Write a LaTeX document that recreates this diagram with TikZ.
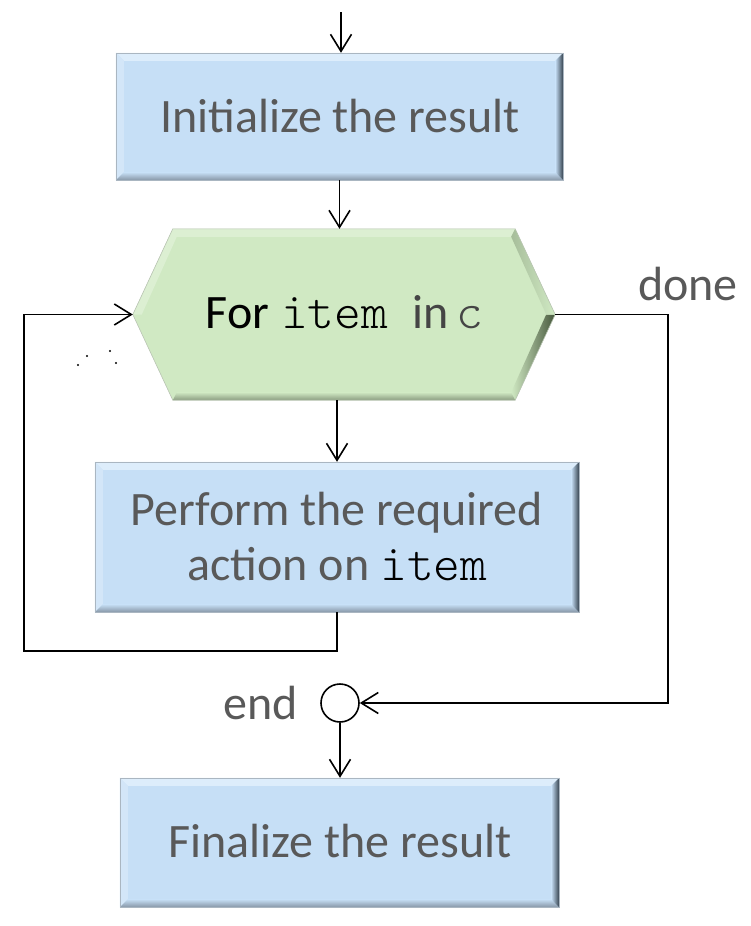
\documentclass[tikz,border=0pt]{standalone}
\usepackage{fontspec}
\setmainfont{Carlito}
\newfontfamily\courlt{lmmonolt10-regular.otf}
\usetikzlibrary{arrows.meta}
\definecolor{txtgray}{HTML}{595959}
\definecolor{ingray}{HTML}{454545}
\definecolor{bluemain}{HTML}{C6DFF6}
\definecolor{bluetop}{HTML}{DDEDFB}
\definecolor{blueleft}{HTML}{D3E6F8}
\definecolor{bluedark}{HTML}{33404C}
\definecolor{bluebot}{HTML}{8696A6}
\definecolor{greenmain}{HTML}{D0E9C3}
\definecolor{greentop}{HTML}{DCEFD2}
\definecolor{greendark}{HTML}{46573C}
\definecolor{greenbot}{HTML}{8A9C80}
\newcommand\cmono[1]{{\fontsize{51}{55}\courlt #1}}
\tikzset{
  conn/.style={line width=1.6pt, black},
  arr/.style={conn, -{Straight Barb[length=17pt,width=21pt,line width=1.6pt]}},
  boxnode/.style={rectangle, fill=bluemain, draw=none, inner sep=0pt},
  txt/.style={text=txtgray, inner sep=0pt, anchor=base, font=\fontsize{48}{55}\selectfont},
  hexnode/.style={rectangle, draw=none, inner sep=0pt},
}
\newcommand\bevbox[1]{%
  \fill[bluetop] (#1.north west) -- (#1.north east) -- ([xshift=-8pt,yshift=-8pt]#1.north east) -- ([xshift=8pt,yshift=-8pt]#1.north west) -- cycle;
  \fill[blueleft] (#1.north west) -- ([xshift=8pt,yshift=-8pt]#1.north west) -- ([xshift=8pt,yshift=8pt]#1.south west) -- (#1.south west) -- cycle;
  \shade[top color=bluemain, bottom color=bluebot] (#1.south west) -- ([xshift=8pt,yshift=8pt]#1.south west) -- ([xshift=-8pt,yshift=8pt]#1.south east) -- (#1.south east) -- cycle;
  \shade[left color=bluemain, right color=bluedark] (#1.north east) -- (#1.south east) -- ([xshift=-8pt,yshift=8pt]#1.south east) -- ([xshift=-8pt,yshift=-8pt]#1.north east) -- cycle;
  \draw[bluebot!70, line width=0.6pt] (#1.north west) rectangle (#1.south east);
}
\begin{document}
\begin{tikzpicture}[x=1pt,y=-1pt]
\useasboundingbox (0,0) rectangle (751,926);
% boxes
\node[boxnode, minimum width=447pt, minimum height=127pt] (b1) at (339.5,116.5) {};
\bevbox{b1}
\node[txt] (b1t) at (340,132) {Initialize the result};

\node[hexnode, minimum width=422pt, minimum height=171pt] (hx) at (344,314.5) {};
\fill[greenmain] (hx.west) -- ([xshift=40pt]hx.north west) -- ([xshift=-40pt]hx.north east) -- (hx.east) -- ([xshift=-40pt]hx.south east) -- ([xshift=40pt]hx.south west) -- cycle;
\fill[greentop] (hx.west) -- ([xshift=40pt]hx.north west) -- ([xshift=-40pt]hx.north east) -- ([xshift=-44pt,yshift=-8pt]hx.north east) -- ([xshift=44pt,yshift=-8pt]hx.north west) -- ([xshift=9pt]hx.west) -- cycle;
\shade[left color=greenmain, right color=greendark] (hx.east) -- ([xshift=-40pt]hx.south east) -- ([xshift=-44pt,yshift=8pt]hx.south east) -- ([xshift=-9pt]hx.east) -- cycle;
\shade[top color=greenmain, bottom color=greenbot] ([xshift=-40pt]hx.south east) -- ([xshift=40pt]hx.south west) -- ([xshift=44pt,yshift=8pt]hx.south west) -- ([xshift=-44pt,yshift=8pt]hx.south east) -- cycle;
\shade[left color=greenmain!70!greendark, right color=greenmain] ([xshift=-40pt]hx.north east) -- (hx.east) -- ([xshift=-9pt]hx.east) -- ([xshift=-44pt,yshift=-8pt]hx.north east) -- cycle;
\draw[greenbot!60, line width=0.6pt] (hx.west) -- ([xshift=40pt]hx.north west) -- ([xshift=-40pt]hx.north east) -- (hx.east) -- ([xshift=-40pt]hx.south east) -- ([xshift=40pt]hx.south west) -- cycle;
\node[txt, text=black] (hxt) at (344.5,328) {For\hspace{12pt}\cmono{item}\hspace{24pt}\textcolor{ingray}{in}\hspace{8pt}\textcolor{ingray}{\cmono{c}}};

\node[boxnode, minimum width=484pt, minimum height=150pt] (b2) at (337,537) {};
\bevbox{b2}
\node[txt] (b2a) at (337,525) {Perform the required};
\node[txt] (b2b) at (337.5,580) {action on \textcolor{black}{\cmono{item}}};

\node[boxnode, minimum width=439pt, minimum height=129pt] (b3) at (339.5,842.5) {};
\bevbox{b3}
\node[txt] (b3t) at (340,857) {Finalize the result};

% end circle
\node[circle, draw, line width=1.6pt, minimum size=38pt, inner sep=0pt] (endc) at (340,703) {};
\node[txt, anchor=base east] (endl) at (298,719) {end};
\node[txt, anchor=base west] (donel) at (638,300) {done};

% connectors
\coordinate (top) at (341,12);
\draw[arr] (top) -- (top |- b1.north);
\draw[arr] (b1.south) -- (b1.south |- hx.north);
\draw[arr] (b2.north |- hx.south) -- (b2.north);
\coordinate (lb) at (24,651);
\draw[arr] (b2.south) |- (lb) |- (hx.west);
\coordinate (dn) at (668,500);
\draw[arr] (hx.east) -| (dn) |- (endc.east);
\draw[arr] (endc.south) -- (endc.south |- b3.north);

% stray dots
\foreach \p/\q in {78/365, 87/356, 110/351, 116/363}
  \fill (\p,\q) circle (1.1pt);
\end{tikzpicture}
\end{document}
